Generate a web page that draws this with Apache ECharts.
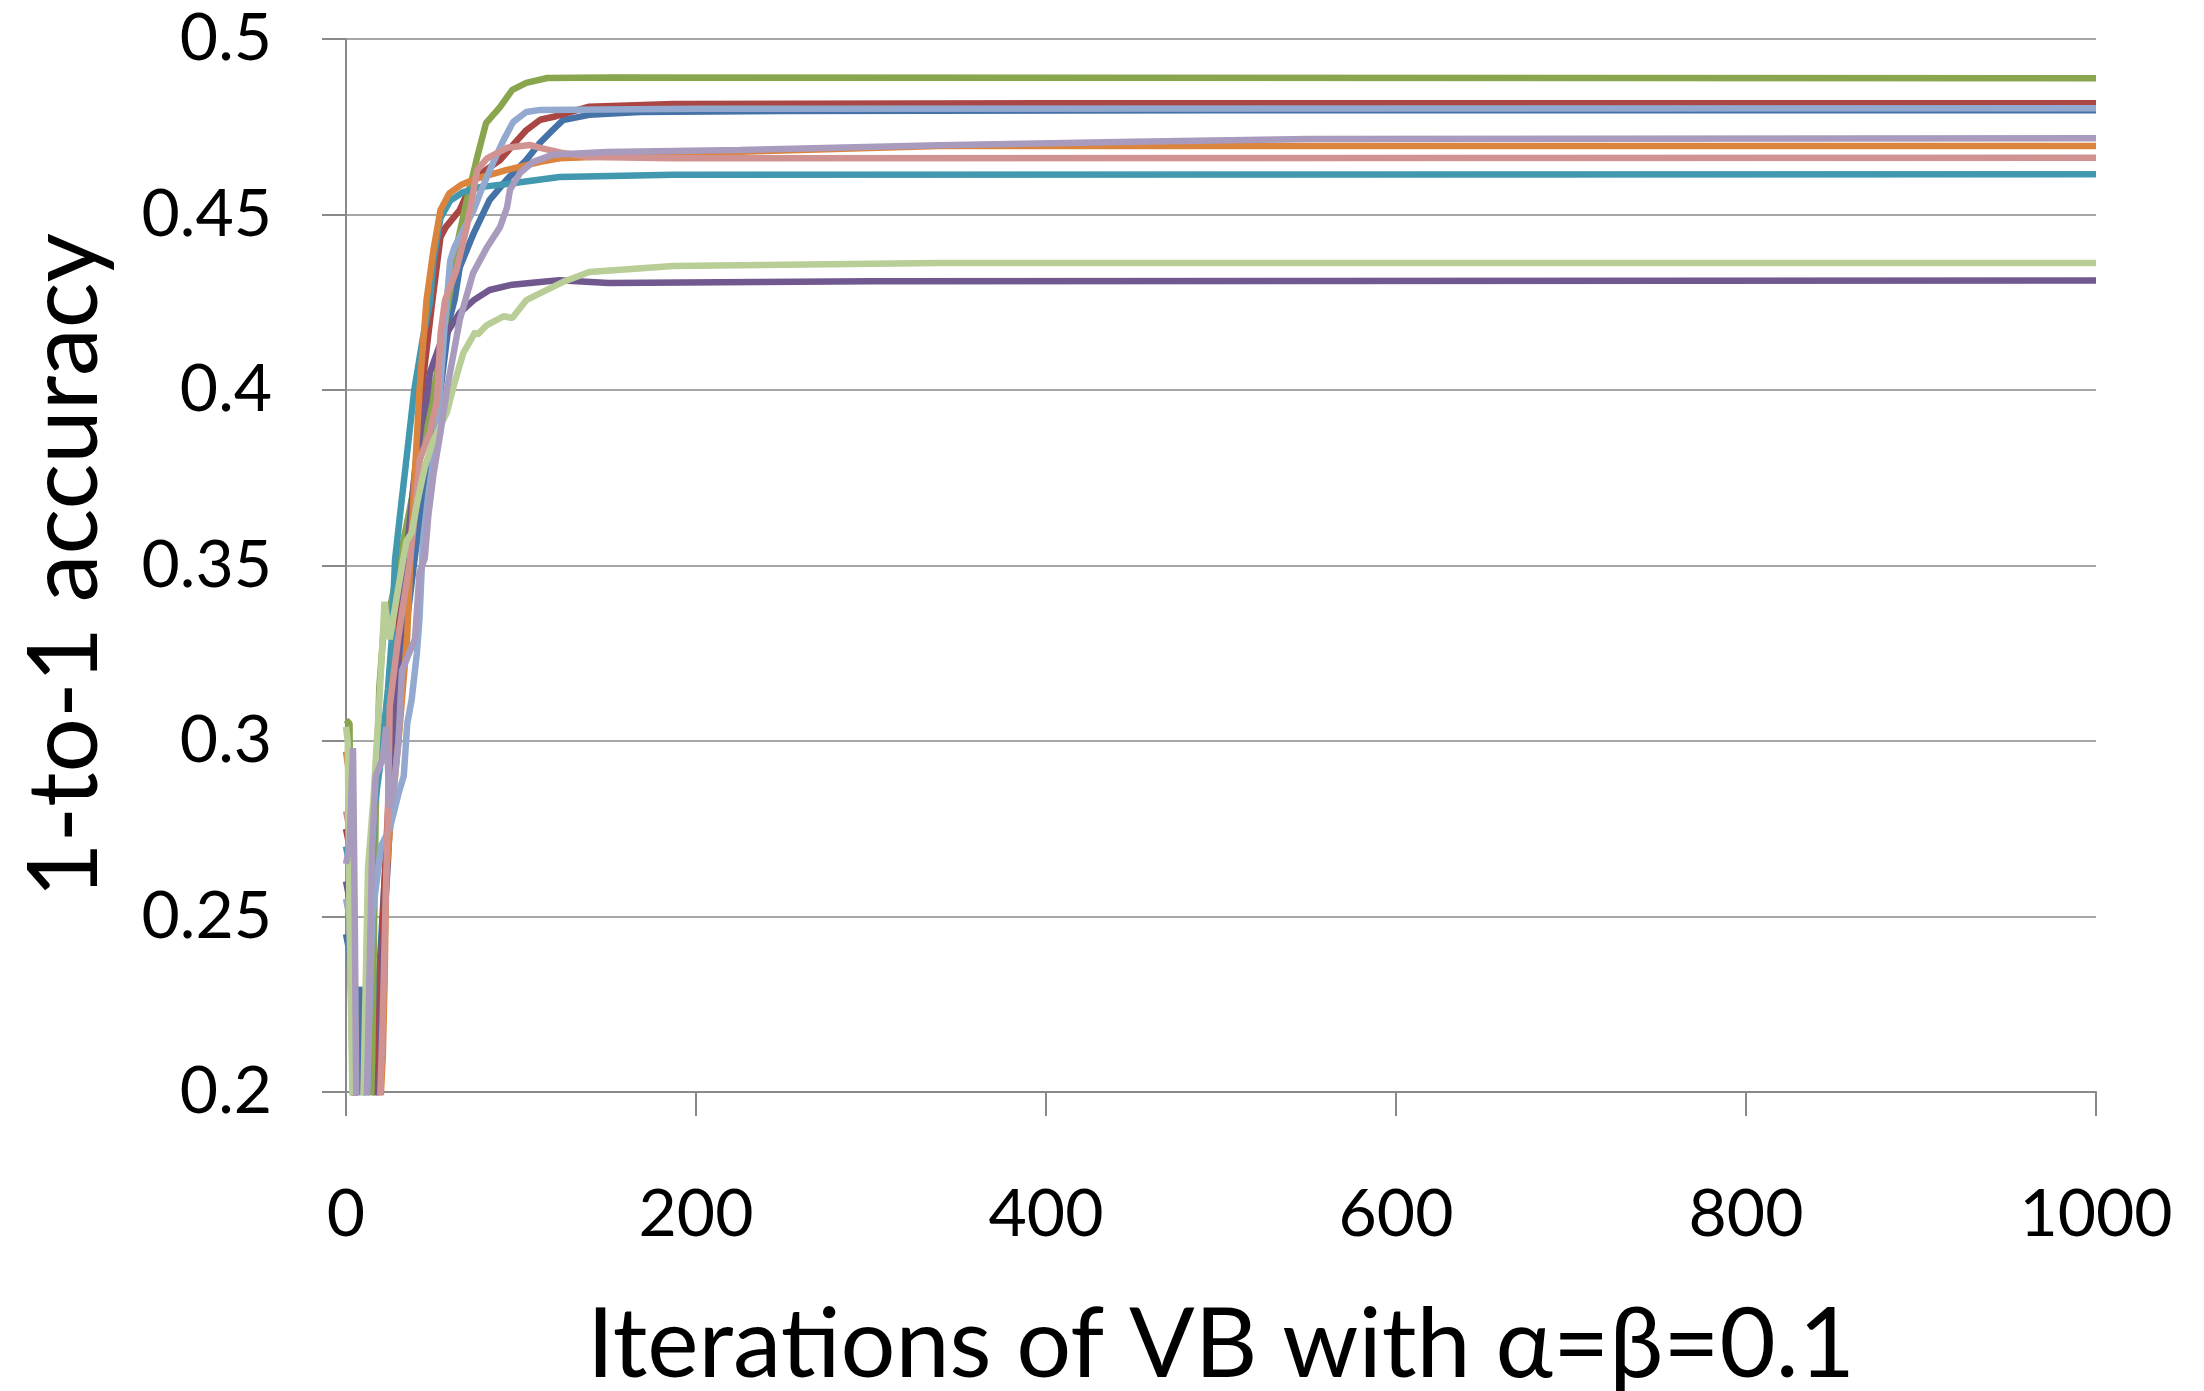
<!DOCTYPE html>
<html>
<head>
<meta charset="utf-8">
<title>1-to-1 accuracy</title>
<script src="https://cdn.jsdelivr.net/npm/echarts@6/dist/echarts.min.js"></script>
<style>
  html, body { margin: 0; padding: 0; background: #fff; }
  #chart { width: 2204px; height: 1391px; }
</style>
</head>
<body>
<div id="chart"></div>
<script>
// each run: [iteration, 1-to-1 accuracy]
var run1 = [[0,0.245],[2,0.24],[4,0.215],[6,0.19],[8,0.23],[9,0.205],[11,0.19],[16,0.19],[18,0.225],[22,0.26],[26,0.285],[30,0.31],[35,0.335],[40,0.355],[45,0.372],[50,0.387],[54,0.40],[59,0.42],[62,0.4256],[65,0.435],[73,0.4447],[82,0.4541],[92,0.46],[103,0.4655],[111,0.4705],[118,0.474],[124,0.4769],[139,0.4784],[168,0.4792],[250,0.4795],[500,0.4797],[1000,0.4797]]
var run2 = [[0,0.275],[2,0.27],[5,0.2],[7,0.19],[16,0.19],[18,0.21],[20,0.235],[22,0.26],[26,0.3],[31,0.34],[36,0.36],[40,0.38],[44,0.403],[49,0.424],[54,0.4436],[57,0.4464],[65,0.4513],[73,0.46],[80,0.4627],[88,0.4655],[97,0.4707],[103,0.474],[111,0.477],[120,0.478],[139,0.4807],[187,0.4815],[400,0.4817],[1000,0.4817]]
var run3 = [[0,0.306],[2,0.305],[3,0.25],[5,0.19],[14,0.19],[15,0.21],[17,0.28],[19,0.315],[22,0.335],[26,0.34],[30,0.35],[40,0.375],[48,0.394],[52,0.405],[57,0.42],[64,0.4427],[69,0.454],[75,0.4664],[80,0.476],[88,0.4806],[95,0.4855],[103,0.4875],[115,0.4889],[150,0.489],[1000,0.4888]]
var run4 = [[0,0.26],[2,0.255],[5,0.2],[6,0.19],[17,0.19],[19,0.2],[22,0.25],[24,0.266],[28,0.31],[33,0.345],[38,0.37],[43,0.39],[46,0.397],[48,0.405],[54,0.4134],[65,0.422],[73,0.4256],[82,0.4285],[95,0.43],[111,0.4308],[122,0.4313],[150,0.4305],[300,0.431],[1000,0.4312]]
var run5 = [[0,0.27],[2,0.265],[4,0.21],[5,0.19],[11,0.19],[12,0.2],[14,0.25],[16,0.28],[20,0.295],[24,0.315],[26,0.328],[28,0.3516],[31,0.365],[34,0.378],[39,0.40],[44,0.415],[48,0.425],[50,0.437],[54,0.449],[59.6,0.454],[67,0.4564],[76.6,0.4578],[92,0.4587],[122,0.4607],[187,0.4613],[1000,0.4615]]
var run6 = [[0,0.297],[2,0.29],[4,0.22],[5,0.19],[19,0.19],[21,0.21],[22,0.23],[23,0.262],[25,0.274],[27,0.285],[30,0.30],[33,0.318],[35,0.33],[37,0.355],[42,0.40],[46,0.4256],[50,0.44],[54,0.4513],[59,0.456],[66,0.4585],[73,0.46],[92,0.4627],[111,0.465],[122,0.466],[200,0.4675],[339,0.4695],[1000,0.4695]]
var run7 = [[0,0.255],[2,0.25],[4,0.2],[5,0.19],[10,0.19],[12,0.2],[15,0.25],[20,0.27],[25,0.275],[30,0.285],[33,0.29],[35,0.305],[37.5,0.3117],[40.5,0.325],[42,0.335],[44,0.357],[47,0.37],[52,0.3877],[56.6,0.42],[59.6,0.437],[62,0.4407],[68,0.4465],[73,0.4513],[78,0.4578],[84,0.4647],[90,0.4712],[95.6,0.4764],[103,0.4792],[111,0.4798],[200,0.4801],[1000,0.4803]]
var run8 = [[0,0.28],[2,0.275],[5,0.2],[6,0.19],[19,0.19],[20,0.205],[21,0.221],[24,0.281],[25,0.31],[30,0.33],[36.6,0.3516],[40,0.368],[42,0.38],[48,0.388],[52,0.397],[54,0.416],[56.6,0.4256],[60,0.43],[63,0.434],[69,0.4464],[75,0.4627],[80.6,0.466],[92,0.469],[105,0.4698],[111,0.469],[124,0.4675],[139,0.4664],[187,0.466],[1000,0.4662]]
var run9 = [[0,0.304],[1,0.30],[2,0.25],[4,0.19],[9,0.19],[10,0.2],[12.6,0.264],[15.6,0.283],[19.4,0.3145],[22,0.3396],[25,0.329],[28,0.338],[32.6,0.3516],[34.6,0.357],[37.5,0.3593],[41,0.3687],[45,0.378],[50,0.3858],[57.5,0.3934],[62,0.402],[67,0.4105],[74,0.4166],[75,0.4157],[80.5,0.4185],[90,0.421],[95,0.4205],[103,0.4256],[111,0.4276],[125,0.431],[139,0.4336],[187,0.4353],[339,0.4362],[1000,0.4362]]
var run10 = [[0,0.265],[2,0.27],[4,0.298],[5,0.25],[6,0.19],[11,0.19],[12,0.2],[15,0.27],[17,0.29],[21,0.295],[23,0.304],[25,0.281],[27,0.285],[30,0.30],[32,0.32],[36,0.325],[39.4,0.329],[42,0.348],[45,0.352],[47,0.364],[50,0.376],[54,0.388],[57.6,0.40],[65,0.42],[72.6,0.4333],[80.6,0.4407],[88,0.4464],[92,0.452],[93.7,0.457],[99.4,0.4618],[107,0.465],[118,0.467],[149,0.4678],[225,0.4684],[339,0.4697],[450,0.4707],[550,0.4715],[1000,0.4717]]

var runs = [run1, run2, run3, run4, run5, run6, run7, run8, run9, run10]
var runNames = ['run 1', 'run 2', 'run 3', 'run 4', 'run 5', 'run 6', 'run 7', 'run 8', 'run 9', 'run 10']
// excel 2007 palette
var colors = ['#4572A7', '#AA4643', '#89A54E', '#71588F', '#4198AF', '#DB843D', '#93A9CF', '#D19392', '#B9CD96', '#A99BBD']

var chart = echarts.init(document.getElementById('chart'))
var axisGray = '#898989'
var font = 'Lato'

var series = runs.map(function (r, i) {
  return {
    name: runNames[i],
    type: 'line',
    data: r,
    showSymbol: false,
    clip: true,
    lineStyle: { color: colors[i], width: 6.5 },
    itemStyle: { color: colors[i] }
  }
})

var option = {
  animation: false,
  backgroundColor: '#fff',
  // fixed plot box, don't let it shrink around the big axis titles
  grid: { left: 346, right: 108, top: 39, bottom: 299, outerBoundsMode: 'none' },
  xAxis: {
    type: 'value',
    min: 0,
    max: 1000,
    interval: 200,
    name: 'Iterations of VB with α=β=0.1',
    nameLocation: 'middle',
    nameGap: 205,
    nameTextStyle: { color: '#000', fontSize: 97, fontFamily: font },
    axisLine: { show: true, lineStyle: { color: axisGray, width: 2 } },
    axisTick: { show: true, length: 24, lineStyle: { color: axisGray, width: 2 } },
    axisLabel: {
      color: '#000', fontSize: 66, fontFamily: font, margin: 90,
      formatter: function (v) { return String(v) }
    },
    splitLine: { show: false }
  },
  yAxis: {
    type: 'value',
    min: 0.2,
    max: 0.5,
    interval: 0.05,
    name: '1-to-1 accuracy',
    nameLocation: 'middle',
    nameGap: 232,
    nameTextStyle: { color: '#000', fontSize: 96, fontFamily: font },
    axisLine: { show: true, lineStyle: { color: axisGray, width: 2 } },
    axisTick: { show: true, length: 24, lineStyle: { color: axisGray, width: 2 } },
    axisLabel: { color: '#000', fontSize: 66, fontFamily: font, margin: 74 },
    splitLine: { show: true, lineStyle: { color: axisGray, width: 1.5 } }
  },
  series: series
}
chart.setOption(option)
</script>
</body>
</html>
